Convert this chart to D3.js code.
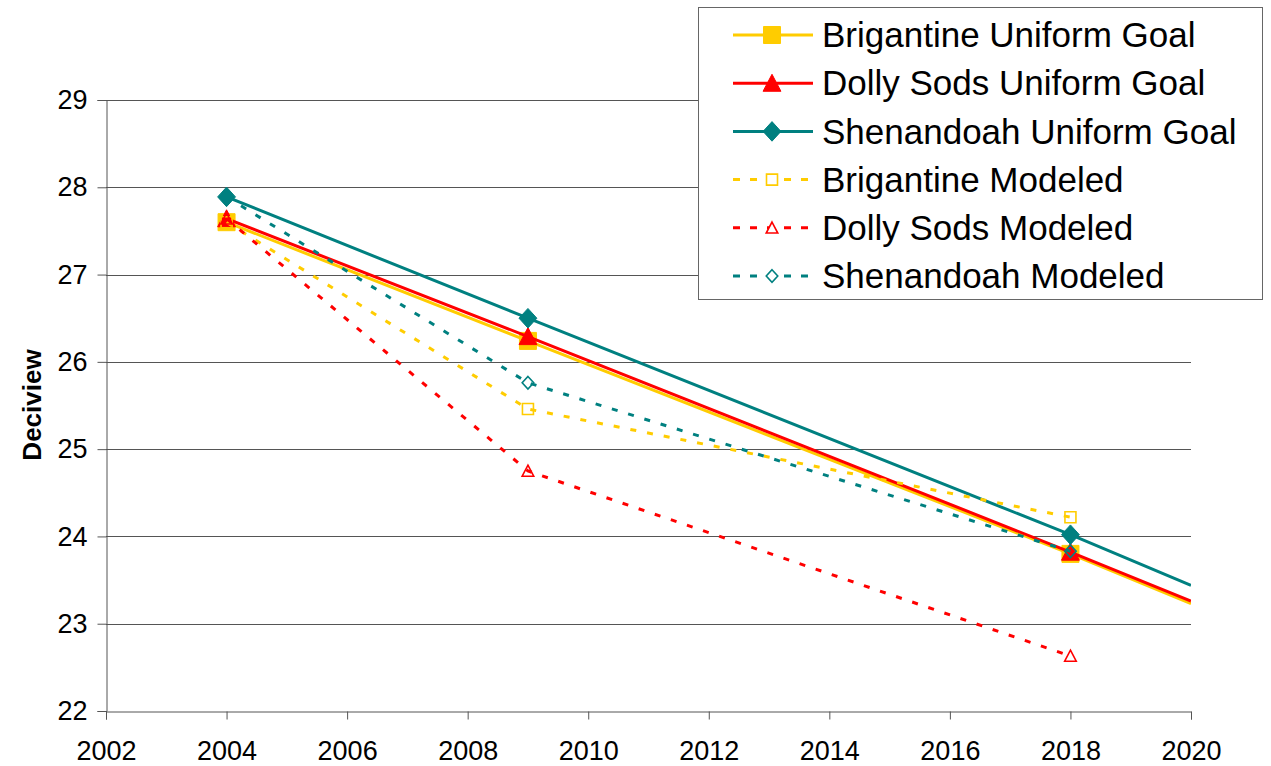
<!DOCTYPE html>
<html>
<head>
<meta charset="utf-8">
<script src="https://cdn.jsdelivr.net/npm/d3@7"></script>
<style>
  html, body { margin: 0; padding: 0; background: #fff; }
  svg { display: block; font-family: "Liberation Sans", Arial, sans-serif; }
</style>
</head>
<body>
<svg id="chart" width="1271" height="766"></svg>
<script>
// Uniform rate of progress glide paths (extend to the right edge of the axis)
const goalYears = [2004, 2009, 2018, 2020];
const markedYears = [2004, 2009, 2018];
const brigantineGoal = [27.60, 26.24, 23.80, 23.23];
const dollySodsGoal = [27.64, 26.29, 23.82, 23.26];
const shenandoahGoal = [27.89, 26.50, 24.02, 23.44];

// Modeled visibility
const modeledYears = [2004, 2009, 2018];
const brigantineModeled = [27.60, 25.46, 24.22];
const dollySodsModeled = [27.64, 24.75, 22.63];
const shenandoahModeled = [27.89, 25.76, 23.83];

const xTicks = [2002, 2004, 2006, 2008, 2010, 2012, 2014, 2016, 2018, 2020];
const yTicks = [22, 23, 24, 25, 26, 27, 28, 29];

const seriesNames = [
  "Brigantine Uniform Goal", "Dolly Sods Uniform Goal", "Shenandoah Uniform Goal",
  "Brigantine Modeled", "Dolly Sods Modeled", "Shenandoah Modeled"
];

const YELLOW = "#FFCC00", RED = "#FF0000", TEAL = "#008080";

const series = [
  { name: seriesNames[0], years: goalYears, values: brigantineGoal, color: YELLOW, shape: "square", modeled: false },
  { name: seriesNames[1], years: goalYears, values: dollySodsGoal, color: RED, shape: "triangle", modeled: false },
  { name: seriesNames[2], years: goalYears, values: shenandoahGoal, color: TEAL, shape: "diamond", modeled: false },
  { name: seriesNames[3], years: modeledYears, values: brigantineModeled, color: YELLOW, shape: "square", modeled: true },
  { name: seriesNames[4], years: modeledYears, values: dollySodsModeled, color: RED, shape: "triangle", modeled: true },
  { name: seriesNames[5], years: modeledYears, values: shenandoahModeled, color: TEAL, shape: "diamond", modeled: true }
];

const svg = d3.select("#chart");
const plot = { left: 106, right: 1191, top: 100, bottom: 711 };

const x = d3.scaleLinear().domain([2002, 2020]).range([plot.left, plot.right]);
const y = d3.scaleLinear().domain([22, 29]).range([plot.bottom, plot.top]);

const AXIS_COLOR = "#555";

// Horizontal gridlines
svg.append("g")
  .selectAll("line")
  .data(yTicks.filter(d => d > 22))
  .join("line")
  .attr("x1", plot.left).attr("x2", plot.right)
  .attr("y1", d => Math.round(y(d)) + 0.5).attr("y2", d => Math.round(y(d)) + 0.5)
  .attr("stroke", AXIS_COLOR).attr("stroke-width", 1);

// Axes
const yAxis = d3.axisLeft(y).tickValues(yTicks).tickSize(9).tickPadding(10).tickFormat(d3.format("d"));
const xAxis = d3.axisBottom(x).tickValues(xTicks).tickSize(8).tickPadding(21).tickFormat(d3.format("d"));

const gy = svg.append("g").attr("transform", `translate(${plot.left + 0.5},0)`).call(yAxis);
const gx = svg.append("g").attr("transform", `translate(0,${plot.bottom + 0.5})`).call(xAxis);

[gx, gy].forEach(g => {
  g.select(".domain").attr("stroke", AXIS_COLOR);
  g.selectAll(".tick line").attr("stroke", AXIS_COLOR);
  g.selectAll(".tick text")
    .attr("fill", "#000")
    .style("font-family", "'Liberation Sans', Arial, sans-serif")
    .style("font-size", "27px");
});
gx.selectAll(".tick text").attr("dy", "0.71em");

// Y axis title
svg.append("text")
  .attr("transform", "translate(41,405) rotate(-90)")
  .attr("text-anchor", "middle")
  .style("font-size", "26px")
  .style("font-weight", "bold")
  .text("Deciview");

// Marker path generator
function markerPath(shape, s) {
  const h = s / 2;
  if (shape === "square") return `M${-h},${-h}H${h}V${h}H${-h}Z`;
  if (shape === "triangle") return `M0,${-h * 1.05}L${h * 1.05},${h * 0.95}L${-h * 1.05},${h * 0.95}Z`;
  if (shape === "diamond") return `M0,${-h * 1.15}L${h * 1.05},0L0,${h * 1.15}L${-h * 1.05},0Z`;
  return "";
}

svg.append("clipPath").attr("id", "plotClip")
  .append("rect")
  .attr("x", plot.left).attr("y", plot.top - 20)
  .attr("width", plot.right - plot.left).attr("height", plot.bottom - plot.top + 20);

const line = d3.line().x(d => x(d[0])).y(d => y(d[1]));

const layer = svg.append("g");

series.forEach(s => {
  const pts = s.years.map((yr, i) => [yr, s.values[i]]);
  const g = layer.append("g");
  g.append("path")
    .attr("d", line(pts))
    .attr("fill", "none")
    .attr("stroke", s.color)
    .attr("stroke-width", 3)
    .attr("stroke-dasharray", s.modeled ? "6,11" : null)
    .attr("clip-path", "url(#plotClip)");
  g.selectAll("path.mk")
    .data(pts.filter(p => markedYears.includes(p[0])))
    .join("path")
    .attr("class", "mk")
    .attr("transform", p => `translate(${x(p[0])},${y(p[1])})`)
    .attr("d", markerPath(s.shape, s.modeled ? 11 : 17))
    .attr("fill", s.modeled ? "none" : s.color)
    .attr("stroke", s.color)
    .attr("stroke-width", s.modeled ? 1.6 : 1);
});

// Legend
const legend = svg.append("g");
legend.append("rect")
  .attr("x", 698.5).attr("y", 7.5)
  .attr("width", 564).attr("height", 292)
  .attr("fill", "#fff").attr("stroke", "#666").attr("stroke-width", 1);

series.forEach((s, i) => {
  const cy = 35 + i * 48.2;
  const row = legend.append("g").attr("transform", `translate(0,${cy})`);
  if (s.modeled) {
    row.append("line")
      .attr("x1", 733).attr("x2", 809).attr("y1", 0).attr("y2", 0)
      .attr("stroke", s.color).attr("stroke-width", 3)
      .attr("stroke-dasharray", "7,10");
  } else {
    row.append("line")
      .attr("x1", 733).attr("x2", 813).attr("y1", 0).attr("y2", 0)
      .attr("stroke", s.color).attr("stroke-width", 3);
  }
  row.append("path")
    .attr("transform", "translate(772,0)")
    .attr("d", markerPath(s.shape, s.modeled ? 11 : 17))
    .attr("fill", s.modeled ? "#fff" : s.color)
    .attr("stroke", s.color)
    .attr("stroke-width", s.modeled ? 1.6 : 1);
  row.append("text")
    .attr("x", 822).attr("y", 0).attr("dy", "0.35em")
    .style("font-size", "35px")
    .text(s.name);
});
</script>
</body>
</html>
